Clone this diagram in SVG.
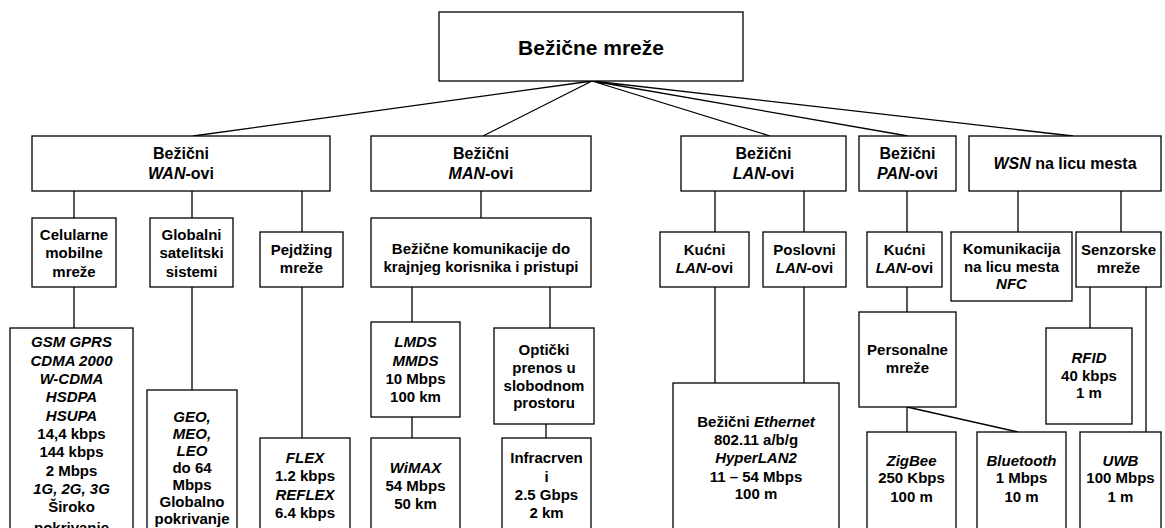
<svg xmlns="http://www.w3.org/2000/svg" width="1165" height="528" viewBox="0 0 1165 528">
<style>
.b{fill:#fff;stroke:#000;stroke-width:1.3}
.c{stroke:#000;stroke-width:1.3;fill:none}
text{font-family:"Liberation Sans",Arial,sans-serif;font-weight:bold;font-size:15px;text-anchor:middle;fill:#000}
.r{font-size:21px}
.l1{font-size:16px}
.i{font-style:italic}
</style>
<rect width="1165" height="528" fill="#fff"/>
<g id="connectors">
<path class="c" d="M592,81 L193,136 M592,81 L483,136 M592,81 L770,136 M592,81 L908,136 M592,81 L1073,136"/>
<path class="c" d="M74,191 V218 M192,191 V218 M302,191 V232 M481,191 V218 M715,191 V232 M804,191 V232 M907,191 V232 M1018,191 V232 M1121,191 V232"/>
<path class="c" d="M74,287 V328 M192,287 V390 M302,287 V438 M412,287 V322 M412,417 V438 M550,287 V328 M546,424 V438 M715,287 V383 M804,287 V383 M907,287 V312 M907,407 V432 M907,407 L1018,432 M1090,287 V328 M1146,287 V432"/>
</g>
<g id="root"><rect class="b" x="439" y="12" width="304" height="69"/><text class="r" x="591" y="54.5">Bežične mreže</text></g>
<g id="wan"><rect class="b" x="32" y="136" width="298" height="55"/><text class="l1" x="181" y="159"><tspan>Bežični</tspan><tspan x="181" y="179"><tspan class="i">WAN</tspan>-ovi</tspan></text></g>
<g id="man"><rect class="b" x="371" y="136" width="220" height="55"/><text class="l1" x="481" y="159"><tspan>Bežični</tspan><tspan x="481" y="179"><tspan class="i">MAN</tspan>-ovi</tspan></text></g>
<g id="lan"><rect class="b" x="681" y="136" width="165" height="55"/><text class="l1" x="763.5" y="159"><tspan>Bežični</tspan><tspan x="763.5" y="179"><tspan class="i">LAN</tspan>-ovi</tspan></text></g>
<g id="pan"><rect class="b" x="859" y="136" width="97" height="55"/><text class="l1" x="907.5" y="159"><tspan>Bežični</tspan><tspan x="907.5" y="179"><tspan class="i">PAN</tspan>-ovi</tspan></text></g>
<g id="wsn"><rect class="b" x="969" y="136" width="192" height="55"/><text class="l1" x="1065" y="169"><tspan class="i">WSN</tspan> na licu mesta</text></g>
<g id="celularne"><rect class="b" x="32" y="218" width="84" height="69"/><text x="74" y="240">Celularne<tspan x="74" y="258.3">mobilne</tspan><tspan x="74" y="276.7">mreže</tspan></text></g>
<g id="globalni"><rect class="b" x="150" y="218" width="83" height="69"/><text x="191.5" y="240">Globalni<tspan x="191.5" y="258.3">satelitski</tspan><tspan x="191.5" y="276.7">sistemi</tspan></text></g>
<g id="pejdzing"><rect class="b" x="260" y="232" width="83" height="55"/><text x="301.5" y="255">Pejdžing<tspan x="301.5" y="273.3">mreže</tspan></text></g>
<g id="pristup"><rect class="b" x="371" y="218" width="220" height="69"/><text x="481" y="254">Bežične komunikacije do<tspan x="481" y="272">krajnjeg korisnika i pristupi</tspan></text></g>
<g id="kucni-lan"><rect class="b" x="660" y="232" width="89" height="55"/><text x="704.5" y="255">Kućni<tspan x="704.5" y="272.7"><tspan class="i">LAN</tspan>-ovi</tspan></text></g>
<g id="poslovni-lan"><rect class="b" x="763" y="232" width="83" height="55"/><text x="804.5" y="255">Poslovni<tspan x="804.5" y="272.7"><tspan class="i">LAN</tspan>-ovi</tspan></text></g>
<g id="kucni-pan"><rect class="b" x="867" y="232" width="75" height="55"/><text x="904.5" y="255">Kućni<tspan x="904.5" y="272.7"><tspan class="i">LAN</tspan>-ovi</tspan></text></g>
<g id="nfc"><rect class="b" x="951" y="232" width="121" height="69"/><text x="1011.5" y="254">Komunikacija<tspan x="1011.5" y="271.7">na licu mesta</tspan><tspan x="1011.5" y="289.3" class="i">NFC</tspan></text></g>
<g id="senzorske"><rect class="b" x="1076" y="232" width="85" height="55"/><text x="1118.5" y="255">Senzorske<tspan x="1118.5" y="272.7">mreže</tspan></text></g>
<g id="gsm"><rect class="b" x="10" y="328" width="123" height="215"/><text x="71.5" y="347.3"><tspan class="i">GSM GPRS</tspan><tspan x="71.5" y="365.6" class="i">CDMA 2000</tspan><tspan x="71.5" y="384" class="i">W-CDMA</tspan><tspan x="71.5" y="402.3" class="i">HSDPA</tspan><tspan x="71.5" y="420.6" class="i">HSUPA</tspan><tspan x="71.5" y="439">14,4 kbps</tspan><tspan x="71.5" y="457.3">144 kbps</tspan><tspan x="71.5" y="475.6">2 Mbps</tspan><tspan x="71.5" y="494" class="i">1G, 2G, 3G</tspan><tspan x="71.5" y="512.3">Široko</tspan><tspan x="71.5" y="533">pokrivanje</tspan></text></g>
<g id="geo"><rect class="b" x="147" y="390" width="90" height="150"/><text x="192" y="422"><tspan class="i">GEO,</tspan><tspan x="192" y="439" class="i">MEO,</tspan><tspan x="192" y="456" class="i">LEO</tspan><tspan x="192" y="473">do 64</tspan><tspan x="192" y="490">Mbps</tspan><tspan x="192" y="507">Globalno</tspan><tspan x="192" y="524">pokrivanje</tspan></text></g>
<g id="flex"><rect class="b" x="260" y="438" width="90" height="102"/><text x="305" y="463"><tspan class="i">FLEX</tspan><tspan x="305" y="481.3">1.2 kbps</tspan><tspan x="305" y="499.6" class="i">REFLEX</tspan><tspan x="305" y="518">6.4 kbps</tspan></text></g>
<g id="lmds"><rect class="b" x="371" y="322" width="89" height="95"/><text x="415.5" y="347.3"><tspan class="i">LMDS</tspan><tspan x="415.5" y="365.7" class="i">MMDS</tspan><tspan x="415.5" y="383.5">10 Mbps</tspan><tspan x="415.5" y="401.7">100 km</tspan></text></g>
<g id="wimax"><rect class="b" x="371" y="438" width="89" height="102"/><text x="415.5" y="473.3"><tspan class="i">WiMAX</tspan><tspan x="415.5" y="491">54 Mbps</tspan><tspan x="415.5" y="509">50 km</tspan></text></g>
<g id="opticki"><rect class="b" x="494" y="328" width="100" height="96"/><text x="544" y="355">Optički<tspan x="544" y="372.7">prenos u</tspan><tspan x="544" y="390.7">slobodnom</tspan><tspan x="544" y="408.3">prostoru</tspan></text></g>
<g id="infracrveni"><rect class="b" x="502" y="438" width="89" height="102"/><text x="546.5" y="463.3">Infracrven<tspan x="546.5" y="481.7">i</tspan><tspan x="546.5" y="500">2.5 Gbps</tspan><tspan x="546.5" y="517.7">2 km</tspan></text></g>
<g id="ethernet"><rect class="b" x="673" y="383" width="166" height="157"/><text x="756" y="426.7">Bežični <tspan class="i">Ethernet</tspan><tspan x="756" y="445">802.11 a/b/g</tspan><tspan x="756" y="462.7" class="i">HyperLAN2</tspan><tspan x="756" y="481.7">11 – 54 Mbps</tspan><tspan x="756" y="499.3">100 m</tspan></text></g>
<g id="personalne"><rect class="b" x="859" y="312" width="97" height="95"/><text x="907.5" y="355">Personalne<tspan x="907.5" y="373.3">mreže</tspan></text></g>
<g id="zigbee"><rect class="b" x="867" y="432" width="89" height="108"/><text x="911.5" y="466"><tspan class="i">ZigBee</tspan><tspan x="911.5" y="483.3">250 Kbps</tspan><tspan x="911.5" y="501.7">100 m</tspan></text></g>
<g id="bluetooth"><rect class="b" x="977" y="432" width="89" height="108"/><text x="1021.5" y="466"><tspan class="i">Bluetooth</tspan><tspan x="1021.5" y="483.3">1 Mbps</tspan><tspan x="1021.5" y="501.7">10 m</tspan></text></g>
<g id="rfid"><rect class="b" x="1046" y="328" width="86" height="96"/><text x="1089" y="362.7"><tspan class="i">RFID</tspan><tspan x="1089" y="380.7">40 kbps</tspan><tspan x="1089" y="398.3">1 m</tspan></text></g>
<g id="uwb"><rect class="b" x="1080" y="432" width="81" height="108"/><text x="1120.5" y="466"><tspan class="i">UWB</tspan><tspan x="1120.5" y="483.3">100 Mbps</tspan><tspan x="1120.5" y="501.7">1 m</tspan></text></g>
</svg>
